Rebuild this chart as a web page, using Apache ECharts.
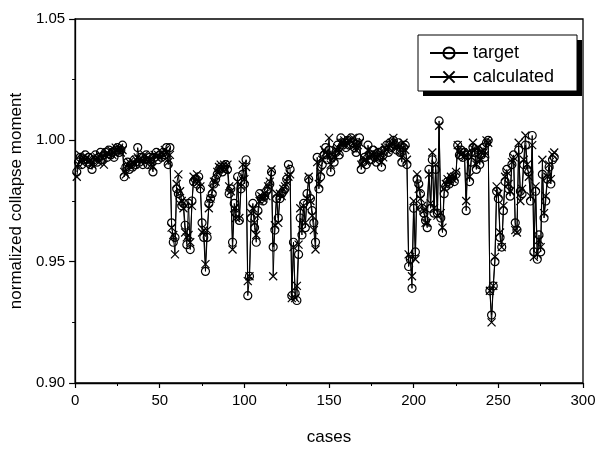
<!DOCTYPE html>
<html>
<head>
<meta charset="utf-8">
<script src="https://cdn.jsdelivr.net/npm/echarts@6/dist/echarts.min.js"></script>
<style>
html,body{margin:0;padding:0;background:#fff;}
#chart{width:601px;height:452px;}
</style>
</head>
<body>
<div id="chart"></div>
<script>
// ---- data (cases 1..283) ----
const xTicks = [0, 50, 100, 150, 200, 250, 300];
const yTicks = [0.90, 0.95, 1.00, 1.05];

const target = [
  0.987,0.991,0.993,0.990,0.992,0.994,0.991,0.993,0.990,0.988,
  0.992,0.994,0.991,0.993,0.995,0.992,0.994,0.995,0.993,0.996,
  0.994,0.995,0.993,0.996,0.997,0.995,0.996,0.998,0.985,0.989,
  0.991,0.988,0.990,0.989,0.992,0.990,0.997,0.991,0.993,0.990,
  0.992,0.994,0.990,0.993,0.991,0.987,0.993,0.995,0.992,0.994,
  0.993,0.995,0.994,0.997,0.990,0.997,0.966,0.958,0.960,0.980,
  0.978,0.976,0.973,0.974,0.965,0.957,0.974,0.955,0.975,0.983,
  0.984,0.982,0.985,0.980,0.966,0.960,0.946,0.960,0.974,0.976,
  0.978,0.982,0.984,0.986,0.988,0.989,0.987,0.989,0.990,0.988,
  0.978,0.980,0.958,0.974,0.970,0.985,0.967,0.980,0.986,0.982,
  0.992,0.936,0.944,0.968,0.974,0.964,0.958,0.971,0.978,0.976,
  0.975,0.977,0.979,0.980,0.982,0.987,0.956,0.963,0.976,0.968,
  0.976,0.978,0.979,0.980,0.984,0.990,0.988,0.936,0.958,0.937,
  0.934,0.953,0.968,0.961,0.974,0.964,0.978,0.984,0.976,0.971,
  0.966,0.958,0.993,0.980,0.985,0.990,0.994,0.997,0.992,0.996,
  0.987,0.993,0.991,0.995,0.998,0.994,1.001,0.998,0.999,0.997,
  1.000,0.998,1.001,0.999,0.997,0.995,0.999,1.001,0.988,0.991,
  0.993,0.990,0.998,0.994,0.992,0.996,0.993,0.991,0.995,0.993,
  0.989,0.994,0.996,0.998,0.995,0.999,0.997,1.000,0.998,0.996,
  0.999,0.995,0.991,0.997,0.998,0.990,0.948,0.951,0.939,0.972,
  0.954,0.984,0.982,0.978,0.972,0.970,0.967,0.964,0.988,0.972,
  0.992,0.970,0.988,0.970,1.008,0.968,0.962,0.978,0.981,0.983,
  0.982,0.984,0.985,0.983,0.986,0.998,0.994,0.996,0.993,0.995,
  0.971,0.994,0.983,0.991,0.997,0.995,0.988,0.996,0.990,0.994,
  0.997,0.993,0.999,1.000,0.938,0.928,0.940,0.950,0.979,0.976,
  0.960,0.956,0.971,0.983,0.988,0.980,0.977,0.990,0.994,0.966,
  0.963,0.996,0.979,0.978,0.990,0.998,0.988,0.987,0.975,1.002,
  0.954,0.979,0.951,0.961,0.954,0.986,0.968,0.975,0.984,0.989,
  0.982,0.992,0.993
];

const calculated = [
  0.985,0.990,0.994,0.992,0.993,0.992,0.993,0.991,0.992,0.990,
  0.993,0.992,0.993,0.991,0.994,0.993,0.990,0.994,0.995,0.994,
  0.996,0.994,0.995,0.997,0.996,0.997,0.995,0.996,0.987,0.986,
  0.990,0.991,0.989,0.991,0.990,0.992,0.993,0.992,0.991,0.992,
  0.994,0.992,0.993,0.992,0.990,0.989,0.994,0.993,0.994,0.993,
  0.995,0.994,0.996,0.995,0.991,0.994,0.964,0.961,0.953,0.982,
  0.986,0.979,0.975,0.972,0.962,0.960,0.961,0.958,0.973,0.985,
  0.983,0.986,0.983,0.981,0.962,0.963,0.949,0.963,0.972,0.976,
  0.980,0.983,0.983,0.987,0.989,0.990,0.988,0.990,0.988,0.990,
  0.981,0.979,0.955,0.972,0.968,0.983,0.968,0.981,0.990,0.984,
  0.989,0.942,0.944,0.970,0.972,0.966,0.961,0.969,0.975,0.977,
  0.976,0.978,0.977,0.981,0.983,0.988,0.944,0.965,0.978,0.966,
  0.978,0.977,0.980,0.981,0.983,0.985,0.986,0.935,0.956,0.935,
  0.940,0.957,0.972,0.963,0.973,0.966,0.976,0.985,0.975,0.969,
  0.963,0.955,0.991,0.982,0.987,0.992,0.996,0.995,0.994,1.001,
  0.990,0.994,0.993,0.996,0.997,0.995,0.999,0.999,1.000,0.998,
  0.999,1.000,1.000,1.001,0.998,0.996,0.998,0.999,0.990,0.993,
  0.992,0.991,0.996,0.993,0.994,0.995,0.992,0.993,0.996,0.994,
  0.991,0.993,0.997,0.996,0.997,0.998,0.999,1.001,0.997,0.998,
  0.998,0.996,0.993,0.999,0.996,0.992,0.953,0.952,0.944,0.975,
  0.951,0.986,0.980,0.976,0.973,0.971,0.966,0.966,0.986,0.974,
  0.995,0.972,0.990,0.969,1.006,0.970,0.964,0.980,0.982,0.984,
  0.983,0.985,0.984,0.985,0.987,0.998,0.995,0.994,0.995,0.993,
  0.975,0.995,0.985,0.993,0.999,0.996,0.990,0.997,0.992,0.995,
  0.996,0.994,1.000,0.999,0.938,0.925,0.940,0.952,0.981,0.978,
  0.962,0.956,0.973,0.985,0.987,0.982,0.979,0.991,0.993,0.963,
  0.962,0.999,0.975,0.980,0.992,1.002,0.990,0.985,0.977,0.998,
  0.952,0.981,0.953,0.959,0.956,0.992,0.970,0.977,0.985,0.990,
  0.984,0.994,0.995
];

const seriesNames = ['target', 'calculated'];

// ---- chart ----
const FONT = '"Liberation Sans", Arial, sans-serif';
const chart = echarts.init(document.getElementById('chart'), null, {renderer: 'canvas'});

const toPairs = arr => arr.map((v, i) => [i + 1, v]);
const xMark = 'path://M0,0L10,10M10,0L0,10';

chart.setOption({
  animation: false,
  backgroundColor: '#fff',
  grid: {
    left: 75, right: 18, top: 19, bottom: 69,
    show: true, borderColor: '#000', borderWidth: 1.3, backgroundColor: 'transparent'
  },
  xAxis: {
    type: 'value', min: xTicks[0], max: xTicks[xTicks.length - 1], interval: 50,
    name: 'cases', nameLocation: 'middle', nameGap: 46,
    nameTextStyle: {fontFamily: FONT, fontSize: 17, color: '#000'},
    axisLine: {show: true, lineStyle: {color: '#000', width: 1.3}},
    axisTick: {show: true, inside: false, length: 5, lineStyle: {color: '#000', width: 1.2}},
    minorTick: {show: true, splitNumber: 2, length: 3, lineStyle: {color: '#000'}},
    splitLine: {show: false},
    axisLabel: {fontFamily: FONT, fontSize: 15, color: '#000', margin: 10}
  },
  yAxis: {
    type: 'value', min: yTicks[0], max: yTicks[yTicks.length - 1], interval: 0.05,
    name: 'normalized collapse moment', nameLocation: 'middle', nameGap: 50, nameRotate: 90,
    nameTextStyle: {fontFamily: FONT, fontSize: 17, color: '#000'},
    axisLine: {show: true, lineStyle: {color: '#000', width: 1.3}},
    axisTick: {show: true, inside: false, length: 6, lineStyle: {color: '#000', width: 1.2}},
    minorTick: {show: true, splitNumber: 2, length: 3, lineStyle: {color: '#000'}},
    splitLine: {show: false},
    axisLabel: {fontFamily: FONT, fontSize: 15, color: '#000', margin: 10,
      formatter: v => v.toFixed(2)}
  },
  legend: {
    orient: 'vertical', left: 424, top: 39, itemGap: 6,
    itemWidth: 38, itemHeight: 14,
    textStyle: {fontFamily: FONT, fontSize: 18, color: '#000'},
    data: seriesNames, z: 10
  },
  graphic: [
    {type: 'rect', z: 5, shape: {x: 423, y: 40, width: 159, height: 56}, style: {fill: '#000'}},
    {type: 'rect', z: 6, shape: {x: 418, y: 35, width: 159, height: 56},
     style: {fill: '#fff', stroke: '#000', lineWidth: 1}}
  ],
  series: [
    {
      name: seriesNames[0], type: 'line', data: toPairs(target),
      symbol: 'circle', symbolSize: 8, showAllSymbol: true,
      lineStyle: {color: '#000', width: 1},
      itemStyle: {color: 'rgba(255,255,255,0)', borderColor: '#000', borderWidth: 1.2}
    },
    {
      name: seriesNames[1], type: 'line', data: toPairs(calculated),
      symbol: xMark, symbolSize: 8, showAllSymbol: true,
      lineStyle: {color: '#000', width: 1},
      itemStyle: {color: '#000', borderColor: '#000', borderWidth: 1.2}
    }
  ]
});
</script>
</body>
</html>
